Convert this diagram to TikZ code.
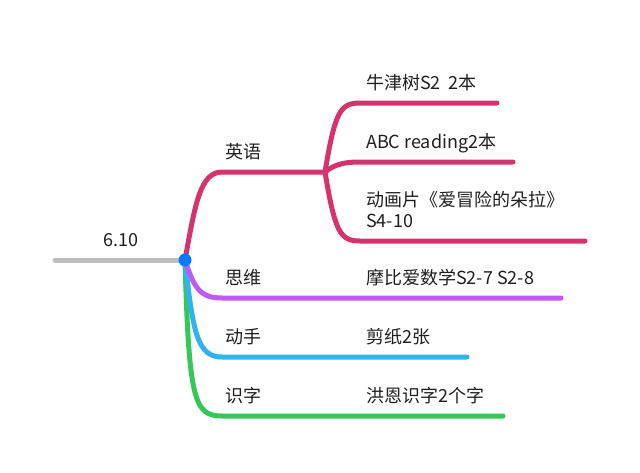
\documentclass[tikz,border=0pt]{standalone}
\usepackage{fontspec}
\setmainfont{Noto Sans CJK SC}
\definecolor{cpink}{RGB}{214,50,110}
\definecolor{cpurple}{RGB}{191,90,242}
\definecolor{ccyan}{RGB}{48,180,240}
\definecolor{cgreen}{RGB}{52,199,89}
\definecolor{cblue}{RGB}{10,122,255}
\definecolor{cgray}{RGB}{190,190,190}
\begin{document}
\begin{tikzpicture}[x=1pt,y=-1pt,
  lbl/.style={inner sep=0pt,anchor=base west,font=\fontsize{18}{22}\selectfont,text=black!88},
  branch/.style={line width=5pt,line cap=round}]
\useasboundingbox (0,0) rectangle (640,472);
% coordinates
\coordinate (c) at (185,260);
\coordinate (rootL) at (55,260);
\coordinate (e1) at (222,172);
\coordinate (s1) at (325,172);
\coordinate (a1) at (360,103);
\coordinate (a1r) at (497,103);
\coordinate (a2) at (360,162);
\coordinate (a2r) at (513,162);
\coordinate (a3) at (360,241);
\coordinate (a3r) at (585,241);
\coordinate (e2) at (222,298);
\coordinate (e2r) at (561,298);
\coordinate (e3) at (222,357);
\coordinate (e3r) at (467,357);
\coordinate (e4) at (222,416);
\coordinate (e4r) at (503,416);
% labels
\node[lbl,anchor=base] (root) at (121,246) {6.10};
\node[lbl] (l1) at (225,158) {英语};
\node[lbl] (l11) at (366,89) {牛津树S2\ \ 2本};
\node[lbl] (l12) at (366,148) {ABC reading2本};
\node[lbl] (l13) at (366,206) {动画片《爱冒险的朵拉》};
\node[lbl] (l13b) at (366,227) {S4-10};
\node[lbl] (l2) at (225,284) {思维};
\node[lbl] (l21) at (366,284) {摩比爱数学S2-7 S2-8};
\node[lbl] (l3) at (225,343) {动手};
\node[lbl] (l31) at (366,343) {剪纸2张};
\node[lbl] (l4) at (225,402) {识字};
\node[lbl] (l41) at (366,402) {洪恩识字2个字};
% connectors
\draw[branch,cgray] (rootL) -- (c);
\draw[branch,cgreen] (c) .. controls (189,400) and (194,416) .. (e4) -- (e4r);
\draw[branch,ccyan] (c) .. controls (193,335) and (198,357) .. (e3) -- (e3r);
\draw[branch,cpurple] (c) .. controls (194,288) and (200,298) .. (e2) -- (e2r);
\draw[branch,cpink] (c) .. controls (195,205) and (200,172) .. (e1) -- (s1);
\draw[branch,cpink] (s1) .. controls (335,112) and (340,103) .. (a1) -- (a1r);
\draw[branch,cpink] (s1) .. controls (335,164) and (345,162) .. (a2) -- (a2r);
\draw[branch,cpink] (s1) .. controls (335,232) and (340,241) .. (a3) -- (a3r);
\fill[cblue] (c) circle (6.5);
\end{tikzpicture}
\end{document}
